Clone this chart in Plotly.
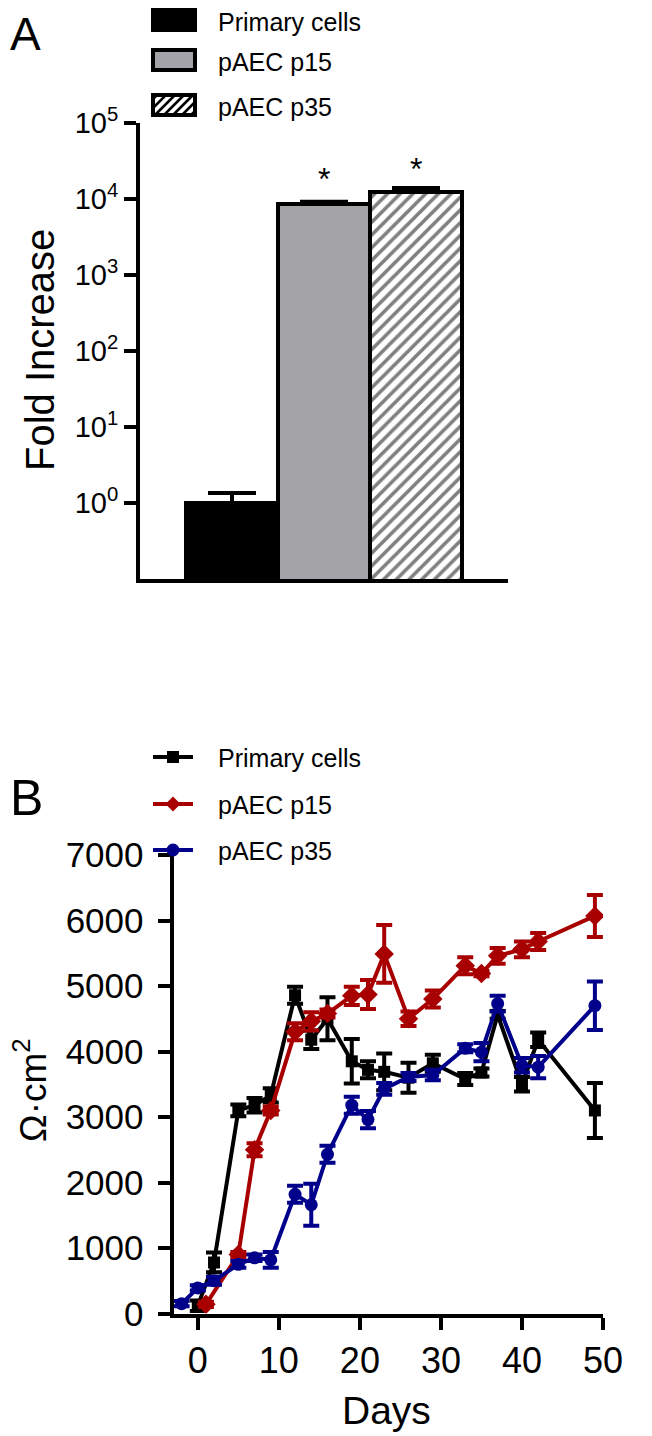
import plotly.graph_objects as go

# the page body has an 8px margin, so the figure is drawn 8px in from the corner
OFF = 8
W, H = 652 - OFF, 1436 - OFF

# panel A: fold increase (log scale)
groups = ["Primary cells", "pAEC p15", "pAEC p35"]
fold = [1.0, 8700, 12400]
fold_err = [0.35, 500, 1600]
fold_ticks = [1, 10, 100, 1000, 10000, 100000]
fold_ticktext = ["10<sup>0</sup>", "10<sup>1</sup>", "10<sup>2</sup>",
                 "10<sup>3</sup>", "10<sup>4</sup>", "10<sup>5</sup>"]

# panel B: TEER over time
days_prim = [0, 2, 5, 7, 9, 12, 14, 16, 19, 21, 23, 26, 29, 33, 35, 37, 40, 42, 49]
teer_prim = [120, 780, 3100, 3180, 3330, 4860, 4180, 4500, 3850, 3720, 3690, 3600,
             3820, 3580, 3680, 4560, 3500, 4180, 3100]
err_prim = [80, 150, 90, 110, 110, 130, 140, 330, 340, 130, 280, 230, 130, 90, 60,
            60, 110, 110, 420]

days_p15 = [1, 5, 7, 9, 12, 14, 16, 19, 21, 23, 26, 29, 33, 35, 37, 40, 42, 49]
teer_p15 = [140, 900, 2500, 3100, 4300, 4460, 4580, 4850, 4870, 5490, 4500, 4800,
            5310, 5190, 5460, 5560, 5680, 6070]
err_p15 = [40, 40, 100, 60, 130, 140, 60, 140, 220, 440, 110, 130, 130, 40, 120,
           120, 130, 320]

days_p35 = [-2, 0, 2, 5, 7, 9, 12, 14, 16, 19, 21, 23, 26, 29, 33, 35, 37, 40, 42, 49]
teer_p35 = [150, 390, 500, 750, 850, 820, 1820, 1660, 2430, 3180, 2960, 3430, 3610,
            3640, 4050, 3990, 4730, 3790, 3760, 4700]
err_p35 = [40, 40, 60, 50, 50, 120, 130, 320, 130, 130, 130, 90, 60, 80, 60, 140,
           120, 110, 170, 370]

FONT = "Liberation Sans, Arial, sans-serif"
RED = "#A80000"
BLUE = "#00008B"


# page pixel -> paper fraction
def px(x):
    return (x - OFF) / W


def py(y):
    return 1 - (y - OFF) / H


fig = go.Figure()

# bars
bar_fill = ["black", "#A3A3A8", "white"]
bar_pattern = ["", "", "/"]
for i, g in enumerate(groups):
    fig.add_trace(go.Bar(
        x=[g], y=[fold[i]], width=1,
        marker=dict(color=bar_fill[i], line=dict(color="black", width=4),
                    pattern=dict(shape=bar_pattern[i], fgcolor="black", bgcolor="white",
                                 size=9, solidity=0.4)),
        error_y=dict(type="data", symmetric=False, array=[fold_err[i]], arrayminus=[0],
                     color="black", thickness=4, width=24),
        showlegend=False, xaxis="x", yaxis="y"))

# lines
series = [
    ("Primary cells", days_prim, teer_prim, err_prim, "black", "square", 12),
    ("pAEC p15", days_p15, teer_p15, err_p15, RED, "diamond", 15),
    ("pAEC p35", days_p35, teer_p35, err_p35, BLUE, "circle", 13),
]
for name, d, v, e, c, sym, sz in series:
    fig.add_trace(go.Scatter(
        x=d, y=v, name=name, mode="lines+markers",
        line=dict(color=c, width=4),
        marker=dict(symbol=sym, size=sz, color=c),
        error_y=dict(type="data", array=e, color=c, thickness=4, width=8),
        showlegend=False, xaxis="x2", yaxis="y2"))

# asterisks above the passaged bars
fig.add_annotation(x=groups[1], y=4.26, text="*", showarrow=False, xref="x", yref="y",
                   font=dict(size=32, color="black", family=FONT))
fig.add_annotation(x=groups[2], y=4.40, text="*", showarrow=False, xref="x", yref="y",
                   font=dict(size=32, color="black", family=FONT))

shapes = []
LEG_FONT = 25

# legend for panel A (wide swatches)
rows_a = [20, 60, 105]
x0, x1 = 153, 195
for i, g in enumerate(groups):
    y0, y1 = rows_a[i] - 10, rows_a[i] + 10
    shapes.append(dict(type="rect", xref="paper", yref="paper",
                       x0=px(x0), x1=px(x1), y0=py(y1), y1=py(y0),
                       fillcolor=bar_fill[i], line=dict(color="black", width=4)))
    if bar_pattern[i] == "/":
        k = x0 + y0 + 4
        while k < x1 + y1:
            xa = max(x0, k - y1)
            xb = min(x1, k - y0)
            shapes.append(dict(type="line", xref="paper", yref="paper",
                               x0=px(xa), y0=py(k - xa), x1=px(xb), y1=py(k - xb),
                               line=dict(color="black", width=2.5)))
            k += 9
    fig.add_annotation(x=px(216), y=py(rows_a[i] + 2.5), xref="paper", yref="paper", text=g,
                       showarrow=False, xanchor="left", yanchor="middle",
                       font=dict(size=LEG_FONT, color="black", family=FONT))

# legend for panel B (line with marker)
rows_b = [757, 804, 850]
for i, (name, d, v, e, c, sym, sz) in enumerate(series):
    yc = rows_b[i]
    shapes.append(dict(type="line", xref="paper", yref="paper",
                       x0=px(153), x1=px(193), y0=py(yc), y1=py(yc),
                       line=dict(color=c, width=4)))
    cx = 173
    if sym == "square":
        shapes.append(dict(type="rect", xref="paper", yref="paper",
                           x0=px(cx - 6), x1=px(cx + 6), y0=py(yc + 6), y1=py(yc - 6),
                           fillcolor=c, line=dict(width=0)))
    elif sym == "diamond":
        r = 7.5
        path = "M {} {} L {} {} L {} {} L {} {} Z".format(
            px(cx - r), py(yc), px(cx), py(yc - r), px(cx + r), py(yc), px(cx), py(yc + r))
        shapes.append(dict(type="path", xref="paper", yref="paper", path=path,
                           fillcolor=c, line=dict(width=0)))
    else:
        shapes.append(dict(type="circle", xref="paper", yref="paper",
                           x0=px(cx - 6.5), x1=px(cx + 6.5), y0=py(yc + 6.5), y1=py(yc - 6.5),
                           fillcolor=c, line=dict(width=0)))
    fig.add_annotation(x=px(216), y=py(yc + 1), xref="paper", yref="paper", text=name,
                       showarrow=False, xanchor="left", yanchor="middle",
                       font=dict(size=LEG_FONT, color="black", family=FONT))

# panel letters and axis titles
fig.add_annotation(x=px(8), y=py(34), xref="paper", yref="paper", text="A", showarrow=False,
                   xanchor="left", yanchor="middle", font=dict(size=46, color="black", family=FONT))
fig.add_annotation(x=px(8), y=py(798), xref="paper", yref="paper", text="B", showarrow=False,
                   xanchor="left", yanchor="middle", font=dict(size=50, color="black", family=FONT))
fig.add_annotation(x=px(40), y=py(350), xref="paper", yref="paper", text="Fold Increase",
                   textangle=-90, showarrow=False, xanchor="center", yanchor="middle",
                   font=dict(size=40, color="black", family=FONT))
fig.add_annotation(x=px(30), y=py(1090), xref="paper", yref="paper", text="Ω·cm<sup>2</sup>",
                   textangle=-90, showarrow=False, xanchor="center", yanchor="middle",
                   font=dict(size=37, color="black", family=FONT))
fig.add_annotation(x=px(386), y=py(1410), xref="paper", yref="paper", text="Days",
                   showarrow=False, xanchor="center", yanchor="middle",
                   font=dict(size=39, color="black", family=FONT))

axis_common = dict(showgrid=False, zeroline=False, showline=True, linecolor="black",
                   linewidth=4, ticks="outside", tickwidth=4, ticklen=12, tickcolor="black",
                   automargin=False)

fig.update_layout(
    width=W, height=H,
    margin=dict(l=0, r=0, t=0, b=0, pad=0, autoexpand=False),
    paper_bgcolor="white", plot_bgcolor="white",
    font=dict(family=FONT, color="black"),
    bargap=0,
    showlegend=False,
    shapes=shapes,
    xaxis=dict(domain=[px(140), px(508)], type="category", range=[-1, 3],
               showgrid=False, zeroline=False, showline=True, linecolor="black",
               linewidth=4, ticks="", showticklabels=False, anchor="y", automargin=False),
    yaxis=dict(domain=[py(579), py(123)], type="log", range=[-1, 5],
               tickvals=fold_ticks, ticktext=fold_ticktext,
               tickfont=dict(size=29, family=FONT), anchor="x", **axis_common),
    xaxis2=dict(domain=[px(173.5), px(603)], range=[-3, 50], tickvals=[0, 10, 20, 30, 40, 50],
                tickfont=dict(size=36, family=FONT), anchor="y2", **axis_common),
    yaxis2=dict(domain=[py(1313.5), py(855)], range=[0, 7000],
                tickvals=[0, 1000, 2000, 3000, 4000, 5000, 6000, 7000],
                tickfont=dict(size=35, family=FONT), ticklabelstandoff=7,
                anchor="x2", **axis_common),
)

fig.write_html("out.html")
